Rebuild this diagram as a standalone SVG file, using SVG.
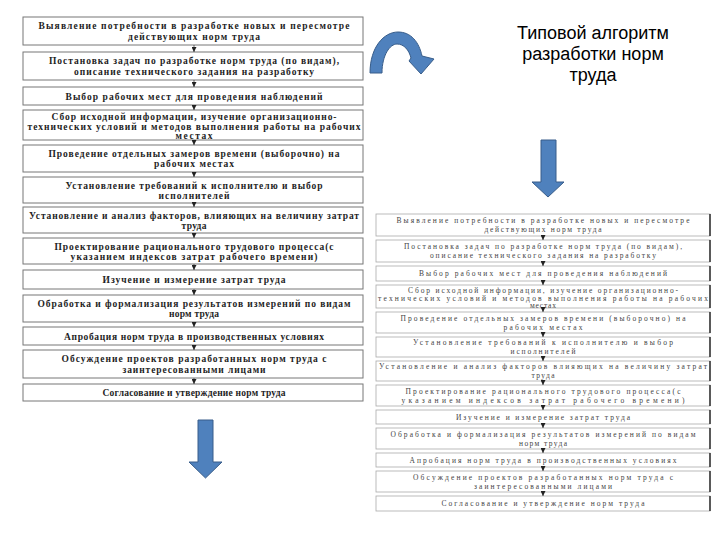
<svg xmlns="http://www.w3.org/2000/svg" width="720" height="540" viewBox="0 0 720 540">
<defs>
<marker id="ah" viewBox="0 0 6 6" refX="6" refY="3" markerWidth="5" markerHeight="5" markerUnits="userSpaceOnUse" orient="auto"><path d="M0,0 L6,3 L0,6 Z" fill="#222"/></marker>
<style>
.lb{fill:#fff;stroke:#777;stroke-width:1}
.rb{fill:#fff;stroke:#aaa;stroke-width:0.8}
.re{stroke:#222;stroke-width:1.4}
.lt{font-family:"Liberation Serif","DejaVu Serif",serif;font-size:9.5px;font-weight:bold;fill:#1e1e1e;text-anchor:middle}
.rt{font-family:"Liberation Serif","DejaVu Serif",serif;font-size:7.5px;fill:#444;text-anchor:middle}
.cn{stroke:#333;stroke-width:0.7;fill:none;marker-end:url(#ah)}
.big{fill:#4F81BD;stroke:#385D8A;stroke-width:1}
.title{font-family:"Liberation Sans",Arial,sans-serif;font-size:18px;fill:#000;text-anchor:middle}
</style>
</defs>
<rect width="720" height="540" fill="#fff"/>

<g id="title">
<text class="title" x="593" y="38.5">Типовой алгоритм</text>
<text class="title" x="593" y="60">разработки норм</text>
<text class="title" x="593" y="81">труда</text>
</g>

<g id="curved-arrow"><path class="big" d="M370,73 C370,47 384,32 398,32 C411,32 419,42 422,56 L434,59 L421,74 L409,61 L411,58 C409,50 404,44 397,44 C390,44 382,55 382,73 Z"/></g>
<g id="down-arrow-right"><path class="big" d="M541,140 L556,140 L556,182 L564,182 L548,197 L532,182 L541,182 Z"/></g>
<g id="down-arrow-left"><path class="big" d="M198,420 L213,420 L213,462 L222,462 L205.5,478 L189,462 L198,462 Z"/></g>

<g id="L1"><rect class="lb" x="23" y="17" width="340" height="28"/><text class="lt" x="194" y="29" textLength="311" lengthAdjust="spacing">Выявление потребности в разработке новых и пересмотре</text><text class="lt" x="194" y="39.5" textLength="132" lengthAdjust="spacing">действующих норм труда</text></g>
<g id="L2"><rect class="lb" x="23" y="52" width="340" height="28"/><text class="lt" x="194" y="64" textLength="290" lengthAdjust="spacing">Постановка задач по разработке норм труда (по видам),</text><text class="lt" x="194" y="74.5" textLength="240" lengthAdjust="spacing">описание технического задания на разработку</text></g>
<g id="L3"><rect class="lb" x="23" y="87" width="340" height="18"/><text class="lt" x="194" y="99.5" textLength="257" lengthAdjust="spacing">Выбор рабочих мест для проведения наблюдений</text></g>
<g id="L4"><rect class="lb" x="23" y="110" width="340" height="30"/><text class="lt" x="194" y="119.5" textLength="285" lengthAdjust="spacing">Сбор исходной информации, изучение организационно-</text><text class="lt" x="194" y="129.5" textLength="333" lengthAdjust="spacing">технических условий и методов выполнения работы на рабочих</text><text class="lt" x="194" y="139" textLength="37" lengthAdjust="spacing">местах</text></g>
<g id="L5"><rect class="lb" x="23" y="145" width="340" height="27"/><text class="lt" x="194" y="156.5" textLength="291" lengthAdjust="spacing">Проведение отдельных замеров времени (выборочно) на</text><text class="lt" x="194" y="166.5" textLength="80" lengthAdjust="spacing">рабочих местах</text></g>
<g id="L6"><rect class="lb" x="23" y="177" width="340" height="26"/><text class="lt" x="194" y="188.5" textLength="257" lengthAdjust="spacing">Установление требований к исполнителю и выбор</text><text class="lt" x="194" y="198.5" textLength="71" lengthAdjust="spacing">исполнителей</text></g>
<g id="L7"><rect class="lb" x="23" y="207" width="340" height="26"/><text class="lt" x="194" y="218.5" textLength="330" lengthAdjust="spacing">Установление и анализ факторов, влияющих на величину затрат</text><text class="lt" x="194" y="228.5" textLength="25" lengthAdjust="spacing">труда</text></g>
<g id="L8"><rect class="lb" x="23" y="238" width="340" height="26"/><text class="lt" x="194" y="249.5" textLength="279" lengthAdjust="spacing">Проектирование рационального трудового процесса(с</text><text class="lt" x="194" y="259.5" textLength="247" lengthAdjust="spacing">указанием индексов затрат рабочего времени)</text></g>
<g id="L9"><rect class="lb" x="23" y="270" width="340" height="19"/><text class="lt" x="194" y="283" textLength="183" lengthAdjust="spacing">Изучение и измерение затрат труда</text></g>
<g id="L10"><rect class="lb" x="23" y="295" width="340" height="27"/><text class="lt" x="194" y="306.5" textLength="313" lengthAdjust="spacing">Обработка и формализация результатов измерений по видам</text><text class="lt" x="194" y="316.5" textLength="50" lengthAdjust="spacing">норм труда</text></g>
<g id="L11"><rect class="lb" x="23" y="327" width="340" height="18"/><text class="lt" x="194" y="339.5" textLength="260" lengthAdjust="spacing">Апробация норм труда в производственных условиях</text></g>
<g id="L12"><rect class="lb" x="23" y="350" width="340" height="28"/><text class="lt" x="194" y="362" textLength="265" lengthAdjust="spacing">Обсуждение проектов разработанных норм труда с</text><text class="lt" x="194" y="372.5" textLength="143" lengthAdjust="spacing">заинтересованными лицами</text></g>
<g id="L13"><rect class="lb" x="23" y="384" width="340" height="17"/><text class="lt" x="194" y="396" textLength="183" lengthAdjust="spacing">Согласование и утверждение норм труда</text></g>

<g id="R1"><rect class="rb" x="376" y="214" width="334" height="22"/><line class="re" x1="710" y1="214" x2="710" y2="236"/><text class="rt" x="543" y="223" textLength="293" lengthAdjust="spacing">Выявление потребности в разработке новых и пересмотре</text><text class="rt" x="543" y="232" textLength="117" lengthAdjust="spacing">действующих норм труда</text></g>
<g id="R2"><rect class="rb" x="376" y="240" width="334" height="22"/><line class="re" x1="710" y1="240" x2="710" y2="262"/><text class="rt" x="543" y="249" textLength="278" lengthAdjust="spacing">Постановка задач по разработке норм труда (по видам),</text><text class="rt" x="543" y="258" textLength="226" lengthAdjust="spacing">описание технического задания на разработку</text></g>
<g id="R3"><rect class="rb" x="376" y="266" width="334" height="15"/><line class="re" x1="710" y1="266" x2="710" y2="281"/><text class="rt" x="543" y="276" textLength="248" lengthAdjust="spacing">Выбор рабочих мест для проведения наблюдений</text></g>
<g id="R4"><rect class="rb" x="376" y="285" width="334" height="23"/><line class="re" x1="710" y1="285" x2="710" y2="308"/><text class="rt" x="543" y="292.5" textLength="270" lengthAdjust="spacing">Сбор исходной информации, изучение организационно-</text><text class="rt" x="543" y="300.5" textLength="330" lengthAdjust="spacing">технических условий и методов выполнения работы на рабочих</text><text class="rt" x="543" y="308" textLength="26" lengthAdjust="spacing">местах</text></g>
<g id="R5"><rect class="rb" x="376" y="312" width="334" height="21"/><line class="re" x1="710" y1="312" x2="710" y2="333"/><text class="rt" x="543" y="320.5" textLength="285" lengthAdjust="spacing">Проведение отдельных замеров времени (выборочно) на</text><text class="rt" x="543" y="329.5" textLength="79" lengthAdjust="spacing">рабочих местах</text></g>
<g id="R6"><rect class="rb" x="376" y="337" width="334" height="20"/><line class="re" x1="710" y1="337" x2="710" y2="357"/><text class="rt" x="543" y="345" textLength="260" lengthAdjust="spacing">Установление требований к исполнителю и выбор</text><text class="rt" x="543" y="354" textLength="65" lengthAdjust="spacing">исполнителей</text></g>
<g id="R7"><rect class="rb" x="376" y="361" width="334" height="20"/><line class="re" x1="710" y1="361" x2="710" y2="381"/><text class="rt" x="543" y="369" textLength="328" lengthAdjust="spacing">Установление и анализ факторов влияющих на величину затрат</text><text class="rt" x="543" y="378" textLength="23" lengthAdjust="spacing">труда</text></g>
<g id="R8"><rect class="rb" x="376" y="385" width="334" height="21"/><line class="re" x1="710" y1="385" x2="710" y2="406"/><text class="rt" x="543" y="393.5" textLength="275" lengthAdjust="spacing">Проектирование рационального трудового процесса(с</text><text class="rt" x="543" y="402.5" textLength="283" lengthAdjust="spacing">указанием индексов затрат рабочего времени)</text></g>
<g id="R9"><rect class="rb" x="376" y="410" width="334" height="14"/><line class="re" x1="710" y1="410" x2="710" y2="424"/><text class="rt" x="543" y="420" textLength="174" lengthAdjust="spacing">Изучение и измерение затрат труда</text></g>
<g id="R10"><rect class="rb" x="376" y="428" width="334" height="21"/><line class="re" x1="710" y1="428" x2="710" y2="449"/><text class="rt" x="543" y="436.5" textLength="305" lengthAdjust="spacing">Обработка и формализация результатов измерений по видам</text><text class="rt" x="543" y="445.5" textLength="48" lengthAdjust="spacing">норм труда</text></g>
<g id="R11"><rect class="rb" x="376" y="453" width="334" height="14"/><line class="re" x1="710" y1="453" x2="710" y2="467"/><text class="rt" x="543" y="463" textLength="267" lengthAdjust="spacing">Апробация норм труда в производственных условиях</text></g>
<g id="R12"><rect class="rb" x="376" y="471" width="334" height="21"/><line class="re" x1="710" y1="471" x2="710" y2="492"/><text class="rt" x="543" y="479.5" textLength="260" lengthAdjust="spacing">Обсуждение проектов разработанных норм труда с</text><text class="rt" x="543" y="488.5" textLength="138" lengthAdjust="spacing">заинтересованными лицами</text></g>
<g id="R13"><rect class="rb" x="376" y="496" width="334" height="15"/><line class="re" x1="710" y1="496" x2="710" y2="511"/><text class="rt" x="543" y="506" textLength="203" lengthAdjust="spacing">Согласование и утверждение норм труда</text></g>

<g id="connectors">
<line class="cn" x1="194" y1="45" x2="194" y2="52"/>
<line class="cn" x1="194" y1="80" x2="194" y2="87"/>
<line class="cn" x1="194" y1="105" x2="194" y2="110"/>
<line class="cn" x1="194" y1="140" x2="194" y2="145"/>
<line class="cn" x1="194" y1="172" x2="194" y2="177"/>
<line class="cn" x1="194" y1="203" x2="194" y2="207"/>
<line class="cn" x1="194" y1="233" x2="194" y2="238"/>
<line class="cn" x1="194" y1="264" x2="194" y2="270"/>
<line class="cn" x1="194" y1="289" x2="194" y2="295"/>
<line class="cn" x1="194" y1="322" x2="194" y2="327"/>
<line class="cn" x1="194" y1="345" x2="194" y2="350"/>
<line class="cn" x1="194" y1="378" x2="194" y2="384"/>
<line class="cn" x1="543" y1="236" x2="543" y2="240"/>
<line class="cn" x1="543" y1="262" x2="543" y2="266"/>
<line class="cn" x1="543" y1="281" x2="543" y2="285"/>
<line class="cn" x1="543" y1="308" x2="543" y2="312"/>
<line class="cn" x1="543" y1="333" x2="543" y2="337"/>
<line class="cn" x1="543" y1="357" x2="543" y2="361"/>
<line class="cn" x1="543" y1="381" x2="543" y2="385"/>
<line class="cn" x1="543" y1="406" x2="543" y2="410"/>
<line class="cn" x1="543" y1="424" x2="543" y2="428"/>
<line class="cn" x1="543" y1="449" x2="543" y2="453"/>
<line class="cn" x1="543" y1="467" x2="543" y2="471"/>
<line class="cn" x1="543" y1="492" x2="543" y2="496"/>
</g>
</svg>
